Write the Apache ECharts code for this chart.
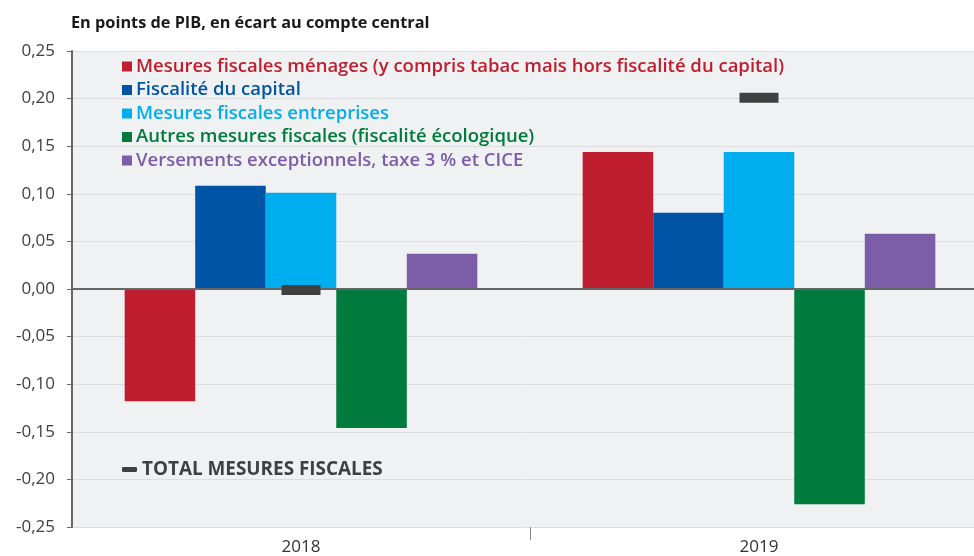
<!DOCTYPE html>
<html>
<head>
<meta charset="utf-8">
<script src="https://cdn.jsdelivr.net/npm/echarts@6/dist/echarts.min.js"></script>
<style>
  html, body { margin: 0; padding: 0; background: #fff; }
  #chart { width: 974px; height: 556px; }
</style>
</head>
<body>
<div id="chart"></div>
<script>
const years = ['2018', '2019']

const menages = [-0.118, 0.144]
const capital = [0.1085, 0.080]
const entreprises = [0.101, 0.144]
const autres = [-0.146, -0.226]
const versements = [0.037, 0.058]
const total = [-0.001, 0.201]

const seriesNames = [
  'Mesures fiscales ménages (y compris tabac mais hors fiscalité du capital)',
  'Fiscalité du capital',
  'Mesures fiscales entreprises',
  'Autres mesures fiscales (fiscalité écologique)',
  'Versements exceptionnels, taxe 3 % et CICE'
]
const totalName = 'TOTAL MESURES FISCALES'
const colors = ['#be1e2d', '#0054a6', '#00aeef', '#007a3d', '#7b5ea7']
const seriesData = [menages, capital, entreprises, autres, versements]

const font = '"Open Sans", "Noto Sans", sans-serif'

const chart = echarts.init(document.getElementById('chart'))

const barSeries = seriesData.map((d, i) => ({
  name: seriesNames[i],
  type: 'bar',
  data: d,
  barGap: 0,
  barCategoryGap: '23%',
  itemStyle: { color: colors[i] },
  emphasis: { disabled: true }
}))

// zero line over the bars
barSeries[0].markLine = {
  silent: true,
  symbol: 'none',
  label: { show: false },
  lineStyle: { color: '#666', width: 2, type: 'solid' },
  data: [{ yAxis: 0 }],
  z: 5
}

const option = {
  animation: false,
  backgroundColor: '#fff',
  textStyle: { fontFamily: font },
  title: {
    text: 'En points de PIB, en écart au compte central',
    left: 71,
    top: 15,
    padding: 0,
    textStyle: { fontSize: 16.3, fontWeight: 'bold', color: '#1a1a1a', fontFamily: font }
  },
  legend: [
    {
      orient: 'vertical',
      left: 117,
      top: 52,
      itemWidth: 10,
      itemHeight: 10,
      itemGap: 4.5,
      icon: 'rect',
      textStyle: { fontSize: 18.5, fontWeight: 600, lineHeight: 17, fontFamily: font, padding: [0, 0, 0, -1] },
      data: seriesNames.map((n, i) => ({ name: n, textStyle: { color: colors[i] } }))
    },
    {
      left: 117,
      top: 455,
      itemWidth: 15,
      itemHeight: 5,
      icon: 'roundRect',
      textStyle: { fontSize: 18.9, fontWeight: 'bold', color: '#404040', fontFamily: font },
      data: [totalName]
    }
  ],
  grid: {
    left: 72,
    top: 51,
    width: 916,
    bottom: 29,
    outerBoundsMode: 'none',
    show: true,
    backgroundColor: '#f0f1f3',
    borderWidth: 0
  },
  xAxis: [
    {
      type: 'category',
      data: years,
      axisLine: { show: false, onZero: false },
      axisTick: { show: false },
      axisLabel: { fontSize: 17, color: '#333', margin: 12, fontFamily: font }
    },
    {
      // only carries the separator tick between the two years
      type: 'value',
      position: 'bottom',
      min: 0,
      max: 2,
      axisLine: { show: false, onZero: false },
      axisLabel: { show: false },
      splitLine: { show: false },
      axisTick: { show: true, length: 13, customValues: [1], lineStyle: { color: '#888' } }
    }
  ],
  yAxis: {
    type: 'value',
    min: -0.25,
    max: 0.25,
    interval: 0.05,
    axisLine: { show: true, lineStyle: { color: '#666', width: 2 } },
    axisTick: { show: true, length: 5, lineStyle: { color: '#666' } },
    splitLine: { lineStyle: { color: '#dcdde1' } },
    axisLabel: {
      fontSize: 17,
      color: '#404040',
      margin: 17,
      fontFamily: font,
      formatter: v => v.toFixed(2).replace('.', ',')
    }
  },
  series: [
    ...barSeries,
    {
      name: totalName,
      type: 'scatter',
      data: total,
      symbol: 'rect',
      symbolSize: [39, 10],
      itemStyle: { color: '#404040', opacity: 1 },
      z: 10,
      emphasis: { disabled: true }
    }
  ]
}

chart.setOption(option)
</script>
</body>
</html>
